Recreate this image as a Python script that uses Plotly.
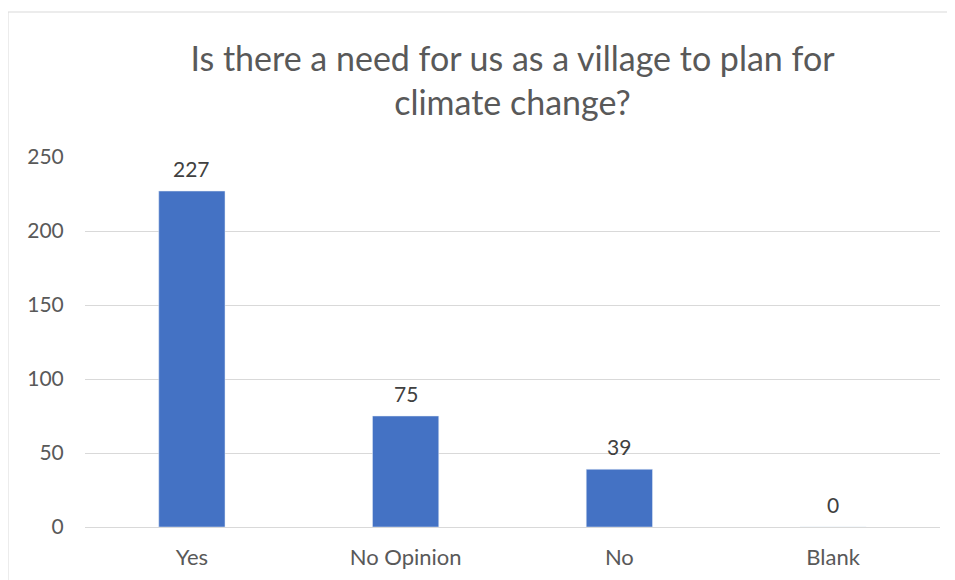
import plotly.graph_objects as go

categories = ["Yes", "No Opinion", "No", "Blank"]
values = [227, 75, 39, 0]
y_ticks = [0, 50, 100, 150, 200, 250]

# Browser body margin (8px) shifts the figure; compensate by working in
# figure coordinates = screen coordinates - 8.
OFF = 8
W, H = 955 - OFF, 580 - OFF
L, T = 85 - OFF, 157 - OFF
R = W - (940 - OFF)
B = H - (527 - OFF)
pw, ph = W - L - R, H - T - B

FONT = "Lato"

fig = go.Figure(go.Bar(
    x=categories, y=values,
    marker_color="#4472C4",
    width=0.31,
    cliponaxis=False,
))

annotations = [
    dict(x=c, y=v, xref="x", yref="y", text=str(v), showarrow=False,
         yanchor="bottom", yshift=8,
         font=dict(size=21, color="#404040", family=FONT))
    for c, v in zip(categories, values)
]

bx0 = (8 - OFF - L) / pw
bx1 = (W + 20 - L) / pw
by0 = -(B + 20) / ph
by1 = (H - B - (12 - OFF)) / ph
border = dict(color="#d9d9d9", width=1)

fig.update_layout(
    width=W, height=H,
    margin=dict(l=L, r=R, t=T, b=B, pad=0, autoexpand=False),
    paper_bgcolor="white", plot_bgcolor="white",
    font=dict(family=FONT, color="#595959"),
    title=dict(
        text="Is there a need for us as a village to plan for<br>climate change?",
        x=0.5, xanchor="center", xref="paper",
        y=1 - (71 - OFF) / H, yanchor="middle",
        font=dict(size=34, color="#595959", family=FONT),
    ),
    showlegend=False,
    annotations=annotations,
    shapes=[
        dict(type="line", xref="paper", yref="paper",
             x0=bx0, x1=bx0, y0=by0, y1=by1, line=border, layer="below"),
        dict(type="line", xref="paper", yref="paper",
             x0=bx0, x1=bx1, y0=by1, y1=by1, line=border, layer="below"),
    ],
)
fig.update_xaxes(
    showgrid=False, showline=False, automargin=False,
    ticks="outside", ticklen=11, tickcolor="rgba(0,0,0,0)",
    tickfont=dict(size=22, color="#595959"),
)
fig.update_yaxes(
    range=[0, 250], tickvals=y_ticks, automargin=False,
    showgrid=True, gridcolor="#d9d9d9", gridwidth=1,
    zeroline=True, zerolinecolor="#d9d9d9", zerolinewidth=1,
    showline=False, ticks="outside", ticklen=16, tickcolor="rgba(0,0,0,0)",
    tickfont=dict(size=21, color="#595959"),
)

fig.write_html("out.html")
